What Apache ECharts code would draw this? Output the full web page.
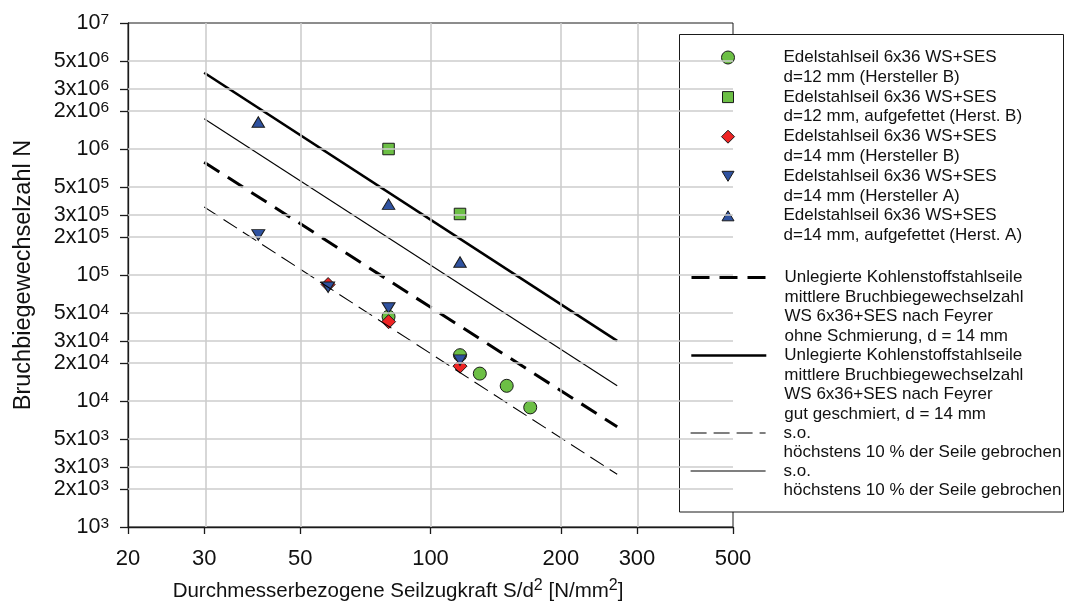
<!DOCTYPE html>
<html lang="de">
<head>
<meta charset="utf-8">
<title>Bruchbiegewechselzahl</title>
<script src="https://cdn.jsdelivr.net/npm/echarts@6/dist/echarts.min.js"></script>
<style>
  html, body { margin: 0; padding: 0; background: #fff; }
  #main { width: 1065px; height: 605px; }
</style>
</head>
<body>
<div id="main"></div>
<script>
// Achsenteilung
var xTicks = [20, 30, 50, 100, 200, 300, 500];
var yTicks = [1e3, 2e3, 3e3, 5e3, 1e4, 2e4, 3e4, 5e4, 1e5, 2e5, 3e5, 5e5, 1e6, 2e6, 3e6, 5e6, 1e7];

// Messpunkte: S/d^2 [N/mm^2] und Bruchbiegewechselzahl N
var kreisS = [80, 117, 130, 150, 170];
var kreisN = [46700, 23100, 16500, 13200, 8900];
var quadratS = [80, 117];
var quadratN = [1000000, 305000];
var rauteS = [58, 80, 117];
var rauteN = [84000, 42600, 18900];
var dreieckUntenS = [40, 58, 80, 117];
var dreieckUntenN = [208000, 80000, 54700, 21100];
var dreieckObenS = [40, 80, 117];
var dreieckObenN = [1640000, 365000, 127000];

// Feyrer-Geraden (Anfang, Ende)
var linieS = [30, 270];
var ohneSchmierungN = [786000, 6240];
var gutGeschmiertN = [4030000, 30000];
var ohneSchmierung10N = [347000, 2620];
var gutGeschmiert10N = [1740000, 13200];

var namen = [
    'Edelstahlseil 6x36 WS+SES\nd=12 mm (Hersteller B)',
    'Edelstahlseil 6x36 WS+SES\nd=12 mm, aufgefettet (Herst. B)',
    'Edelstahlseil 6x36 WS+SES\nd=14 mm (Hersteller B)',
    'Edelstahlseil 6x36 WS+SES\nd=14 mm (Hersteller A)',
    'Edelstahlseil 6x36 WS+SES\nd=14 mm, aufgefettet (Herst. A)',
    'Unlegierte Kohlenstoffstahlseile\nmittlere Bruchbiegewechselzahl\nWS 6x36+SES nach Feyrer\nohne Schmierung, d = 14 mm',
    'Unlegierte Kohlenstoffstahlseile\nmittlere Bruchbiegewechselzahl\nWS 6x36+SES nach Feyrer\ngut geschmiert, d = 14 mm',
    's.o.\nhöchstens 10 % der Seile gebrochen',
    's.o.\nhöchstens 10 % der Seile gebrochen ' // Leerzeichen: Name muss eindeutig sein
];

var schrift = "'Liberation Sans', Arial, sans-serif";
var lg = Math.log10;

function punkte(S, N) {
    return S.map(function (s, i) { return [lg(s), lg(N[i])]; });
}

var dreieckUnten = 'path://M0,0L12,0L6,10Z';

function streuung(name, S, N, symbol, groesse, farbe) {
    return {
        name: name, type: 'scatter', data: punkte(S, N),
        symbol: symbol, symbolSize: groesse,
        itemStyle: { color: farbe, borderColor: '#1a1a1a', borderWidth: 1, opacity: 1 },
        emphasis: { disabled: true }
    };
}

function gerade(name, N, breite, strich) {
    return {
        name: name, type: 'line', data: punkte(linieS, N),
        symbol: 'none', showSymbol: false,
        lineStyle: { color: '#000', width: breite, type: strich },
        emphasis: { disabled: true }
    };
}

// Legende: jeder Eintrag einzeln platziert, Symbol auf Hoehe der ersten Textzeile
var L = 19.6;
function legende(name, zeilen, mitte, links, icon, breite) {
    var leer = new Array(zeilen).join('\n');
    var eintrag = {
        data: [icon ? { name: name, icon: icon } : name],
        orient: 'vertical', left: links, top: mitte - (2 * zeilen - 1) * L / 2,
        padding: 0, itemWidth: 75, itemHeight: 13, itemGap: 0,
        selectedMode: false,
        formatter: function (n) { return leer + n.trim(); },
        textStyle: {
            fontFamily: schrift, fontSize: 17, lineHeight: L, color: '#111',
            padding: [0, 0, 0, 13]
        },
        itemStyle: icon
            ? { borderColor: '#1a1a1a', borderWidth: 1 }
            : { color: 'rgba(0,0,0,0)', borderWidth: 0, opacity: 0 }
    };
    if (breite) {
        eintrag.lineStyle = { width: breite, color: '#000' };
    }
    return eintrag;
}

var chart = echarts.init(document.getElementById('main'));

var option = {
    animation: false,
    backgroundColor: '#fff',
    textStyle: { fontFamily: schrift },
    grid: {
        left: 128, right: 332, top: 23, bottom: 78,
        outerBoundsMode: 'none',
        show: true, borderColor: '#1a1a1a', borderWidth: 1, backgroundColor: 'transparent'
    },
    xAxis: {
        type: 'value', min: lg(20), max: lg(500),
        splitLine: { show: false },
        axisLine: { lineStyle: { color: '#1a1a1a', width: 1.3 } },
        axisTick: { customValues: xTicks.map(lg), length: 7, lineStyle: { color: '#1a1a1a', width: 1.3 } },
        axisLabel: {
            customValues: xTicks.map(lg), margin: 21,
            fontSize: 22, color: '#111', fontFamily: schrift,
            formatter: function (v) { return String(Math.round(Math.pow(10, v))); }
        },
        name: '{t|Durchmesserbezogene Seilzugkraft S/d}{s|2}{t| [N/mm}{s|2}{t|]}',
        nameLocation: 'middle', nameGap: 47,
        nameTextStyle: {
            padding: [0, 65, 0, 0],
            rich: {
                t: { fontSize: 20.5, lineHeight: 24, padding: [6, 0, 0, 0], color: '#111', fontFamily: schrift, verticalAlign: 'bottom' },
                s: { fontSize: 16, lineHeight: 16, color: '#111', fontFamily: schrift, verticalAlign: 'top' }
            }
        }
    },
    yAxis: {
        type: 'value', min: 3, max: 7,
        splitLine: { show: false },
        axisLine: { show: true, lineStyle: { color: '#1a1a1a', width: 1.3 } },
        axisTick: { show: true, customValues: yTicks.map(lg), length: 8, lineStyle: { color: '#1a1a1a', width: 1.3 } },
        axisLabel: {
            customValues: yTicks.map(lg), margin: 19,
            formatter: function (v) {
                var k = Math.floor(v + 1e-9);
                var m = Math.round(Math.pow(10, v - k));
                return (m === 1 ? '{b|10}' : '{b|' + m + 'x10}') + '{s|' + k + '}';
            },
            rich: {
                b: { fontSize: 21.5, lineHeight: 23, color: '#111', fontFamily: schrift },
                s: { fontSize: 15.5, lineHeight: 15, color: '#111', fontFamily: schrift, verticalAlign: 'top' }
            }
        },
        name: 'Bruchbiegewechselzahl N',
        nameLocation: 'middle', nameGap: 92,
        nameTextStyle: { fontSize: 23.5, color: '#111', fontFamily: schrift }
    },
    legend: [
        legende(namen[0], 2, 57.5, 721, 'circle'),
        legende(namen[1], 2, 97.1, 721, 'path://M-1,-1M12,12M0,0H11V11H0Z'),
        legende(namen[2], 2, 136.7, 721, 'path://M6.5,0L13,6.5L6.5,13L0,6.5Z'),
        legende(namen[3], 2, 176.3, 721.5, 'path://M0,-1.5M0,11.5M0,0L12,0L6,10Z'),
        legende(namen[4], 2, 215.8, 721.5, 'path://M0,-1.5M0,11.5M6,0L12,10L0,10Z'),
        legende(namen[5], 4, 277.5, 690, null, 3),
        legende(namen[6], 4, 355.5, 690, null, 2.6),
        legende(namen[7], 2, 433, 690, null, 1.2),
        legende(namen[8], 2, 471, 690, null, 1.2)
    ],
    graphic: [{
        type: 'rect', z: 3, silent: true,
        shape: { x: 679.5, y: 34.5, width: 384, height: 477.5 },
        style: { fill: '#fff', stroke: '#1a1a1a', lineWidth: 1 }
    }],
    series: [
        {
            // Gitterlinien
            type: 'line', data: [], silent: true, z: 1,
            markLine: {
                silent: true, symbol: 'none', animation: false,
                label: { show: false },
                lineStyle: { color: '#cdcdcd', width: 1.6, type: 'solid' },
                emphasis: { disabled: true },
                data: xTicks.slice(1).map(function (v) { return { xAxis: lg(v) }; })
                    .concat(yTicks.slice(1, -1).map(function (v) { return { yAxis: lg(v) }; }))
            }
        },
        streuung(namen[0], kreisS, kreisN, 'circle', 13, '#6cbf45'),
        streuung(namen[1], quadratS, quadratN, 'rect', 11.5, '#6cbf45'),
        streuung(namen[2], rauteS, rauteN, 'diamond', 14, '#ee2424'),
        streuung(namen[3], dreieckUntenS, dreieckUntenN, dreieckUnten, [13, 10.5], '#2f52a0'),
        streuung(namen[4], dreieckObenS, dreieckObenN, 'triangle', [12.5, 10.5], '#2f52a0'),
        gerade(namen[5], ohneSchmierungN, 3, [18, 10]),
        gerade(namen[6], gutGeschmiertN, 2.6, 'solid'),
        gerade(namen[7], ohneSchmierung10N, 1.1, [16, 7]),
        gerade(namen[8], gutGeschmiert10N, 1.1, 'solid')
    ]
};

chart.setOption(option);
</script>
</body>
</html>
